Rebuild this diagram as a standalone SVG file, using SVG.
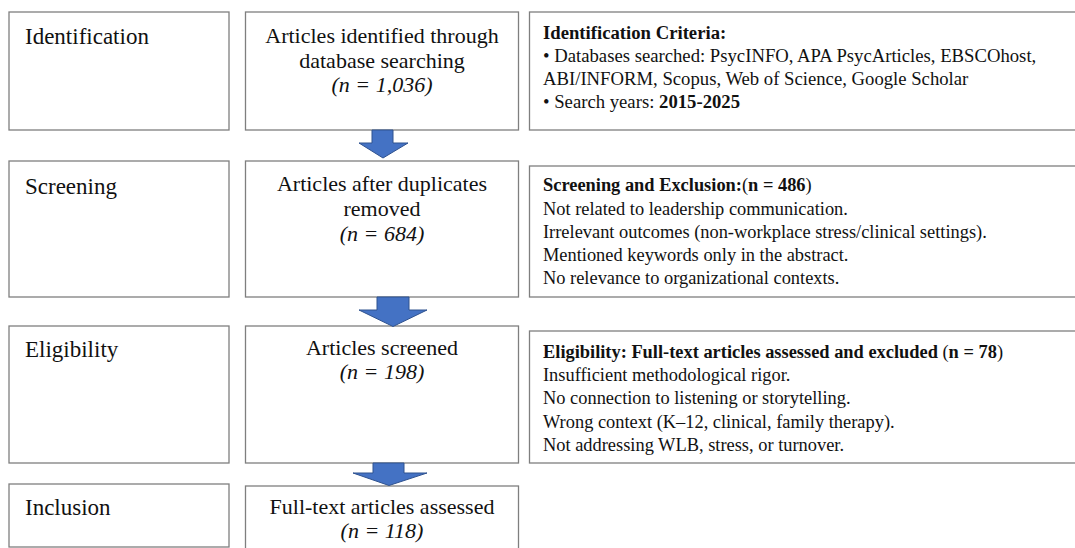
<svg xmlns="http://www.w3.org/2000/svg" width="1075" height="548" viewBox="0 0 1075 548">
<style>
  .box { fill: #ffffff; stroke: #7f7f7f; stroke-width: 1.3; }
  text { font-family: "Liberation Serif", "Times New Roman", "DejaVu Serif", serif; fill: #111; }
  .stage { font-size: 23px; }
  .mid { font-size: 22px; text-anchor: middle; }
  .it { font-style: italic; }
  .side { font-size: 18.4px; }
  .side2 { font-size: 18.7px; }
  .b { font-weight: bold; }
  .arrow { fill: #4472C4; stroke: #2F528F; stroke-width: 1; }
</style>
<rect x="0" y="0" width="1075" height="548" fill="#ffffff"/>

<g id="stage-identification">
  <rect class="box" x="9" y="12" width="220" height="118"/>
  <text class="stage" x="25" y="44">Identification</text>
</g>
<g id="stage-screening">
  <rect class="box" x="9" y="161" width="220" height="136"/>
  <text class="stage" x="25" y="194">Screening</text>
</g>
<g id="stage-eligibility">
  <rect class="box" x="9" y="326" width="220" height="137"/>
  <text class="stage" x="25" y="357">Eligibility</text>
</g>
<g id="stage-inclusion">
  <rect class="box" x="9" y="484" width="220" height="63"/>
  <text class="stage" x="25" y="515">Inclusion</text>
</g>

<g id="box-identified">
  <rect class="box" x="245.5" y="12" width="273" height="118"/>
  <text class="mid" x="382" y="43">Articles identified through</text>
  <text class="mid" x="382" y="68">database searching</text>
  <text class="mid it" x="382" y="92">(n = 1,036)</text>
</g>
<g id="box-duplicates">
  <rect class="box" x="245.5" y="161" width="273" height="136"/>
  <text class="mid" x="382" y="191">Articles after duplicates</text>
  <text class="mid" x="382" y="216">removed</text>
  <text class="mid it" x="382" y="241">(n = 684)</text>
</g>
<g id="box-screened">
  <rect class="box" x="245.5" y="326" width="273" height="137"/>
  <text class="mid" x="382" y="355">Articles screened</text>
  <text class="mid it" x="382" y="379">(n = 198)</text>
</g>
<g id="box-fulltext">
  <rect class="box" x="245.5" y="486" width="273" height="70"/>
  <text class="mid" x="382" y="514">Full-text articles assessed</text>
  <text class="mid it" x="382" y="538">(n = 118)</text>
</g>

<g id="criteria-identification">
  <rect class="box" x="529.5" y="12" width="560" height="118"/>
  <text class="side2 b" x="543" y="39">Identification Criteria:</text>
  <text class="side2" x="543" y="62">• Databases searched: PsycINFO, APA PsycArticles, EBSCOhost,</text>
  <text class="side2" x="543" y="85">ABI/INFORM, Scopus, Web of Science, Google Scholar</text>
  <text class="side2" x="543" y="108">• Search years: <tspan class="b">2015-2025</tspan></text>
</g>
<g id="criteria-screening">
  <rect class="box" x="529.5" y="166" width="560" height="131"/>
  <text class="side" x="543" y="191"><tspan class="b">Screening and Exclusion:</tspan>(<tspan class="b">n = 486</tspan>)</text>
  <text class="side" x="543" y="214.5">Not related to leadership communication.</text>
  <text class="side" x="543" y="237.5">Irrelevant outcomes (non-workplace stress/clinical settings).</text>
  <text class="side" x="543" y="261">Mentioned keywords only in the abstract.</text>
  <text class="side" x="543" y="284">No relevance to organizational contexts.</text>
</g>
<g id="criteria-eligibility">
  <rect class="box" x="529.5" y="331" width="560" height="132"/>
  <text class="side" x="543" y="357.5"><tspan class="b">Eligibility: Full-text articles assessed and excluded </tspan>(<tspan class="b">n = 78</tspan>)</text>
  <text class="side" x="543" y="381">Insufficient methodological rigor.</text>
  <text class="side" x="543" y="404">No connection to listening or storytelling.</text>
  <text class="side" x="543" y="427.5">Wrong context (K–12, clinical, family therapy).</text>
  <text class="side" x="543" y="450.5">Not addressing WLB, stress, or turnover.</text>
</g>

<g id="connectors">
  <path class="arrow" d="M372,130 L393,130 L393,143 L408,143 L383,158 L359,143 L372,143 Z"/>
  <path class="arrow" d="M377,297 L409,297 L409,310 L427,310 L393,326.5 L359,310 L377,310 Z"/>
  <path class="arrow" d="M373,463 L404,463 L404,473 L427,473 L389,485.5 L353,473 L373,473 Z"/>
</g>
</svg>
